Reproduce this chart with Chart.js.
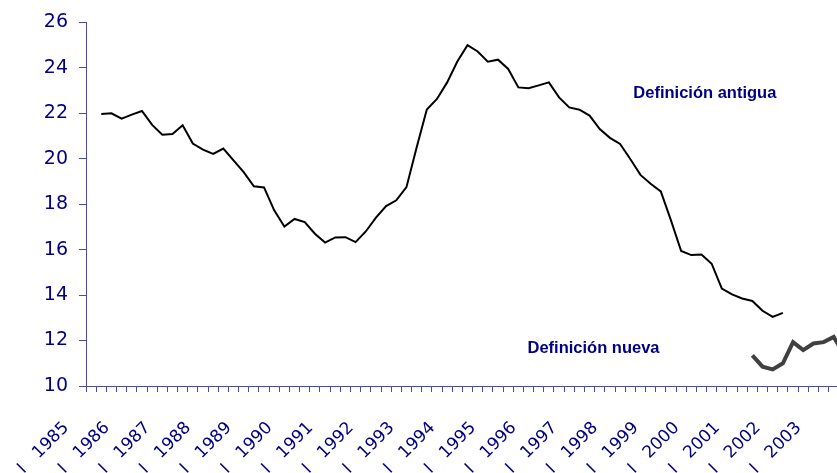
<!DOCTYPE html>
<html>
<head>
<meta charset="utf-8">
<script src="https://cdn.jsdelivr.net/npm/chart.js@4.4.1/dist/chart.umd.min.js"></script>
<style>
  html, body { margin: 0; padding: 0; background: #fff; overflow: hidden; }
  #wrap { width: 837px; height: 473px; overflow: hidden; }
</style>
</head>
<body>
<div id="wrap"><canvas id="chart" width="849" height="473"></canvas></div>
<script>
// quarters shown on the axis: one blank slot before 1985, then 1985-I .. 2003-II
var quarterNames = ['I', 'II', 'III', 'IV'];
var firstYear = 1985;
var lastYear = 2003;
var lastQuarter = 2;

var categories = ['IV   1984'];
for (var y = firstYear; y <= lastYear; y++) {
  for (var q = 0; q < 4; q++) {
    if (y === lastYear && q >= lastQuarter) break;
    categories.push(quarterNames[q] + '   ' + y);
  }
}

// old definition, 1985-I .. 2001-IV
var oldDefinition = [
  21.97, 22.00, 21.76, 21.94, 22.10, 21.49, 21.06, 21.09,
  21.47, 20.67, 20.40, 20.21, 20.45, 19.93, 19.41, 18.79,
  18.74, 17.73, 17.02, 17.35, 17.21, 16.70, 16.31, 16.54,
  16.55, 16.33, 16.80, 17.41, 17.92, 18.17, 18.75, 20.50,
  22.17, 22.63, 23.36, 24.28, 25.00, 24.72, 24.27, 24.36,
  23.95, 23.14, 23.10, 23.23, 23.36, 22.70, 22.26, 22.16,
  21.90, 21.31, 20.92, 20.65, 19.99, 19.29, 18.90, 18.56,
  17.29, 15.94, 15.76, 15.79, 15.38, 14.29, 14.03, 13.85,
  13.74, 13.31, 13.04, 13.22
];

// new definition, 2001-I .. 2003-II
var newDefinition = [11.35, 10.85, 10.73, 11.00, 11.93, 11.58, 11.87, 11.93, 12.16, 11.40];
var newStart = 65;

var yTicks = [10, 12, 14, 16, 18, 20, 22, 24, 26];

// text labels inside the plot: [text, category index, value]
var noteTexts = ['Definición antigua', 'Definición nueva'];
var noteIndex = [53.3, 42.9];
var noteValue = [22.86, 11.67];

function padSeries(values, start) {
  var out = [];
  for (var i = 0; i < categories.length; i++) {
    var k = i - start;
    out.push(k >= 0 && k < values.length ? values[k] : null);
  }
  return out;
}

var navy = '#000080';
var axisColor = '#4a4aa8';

var notesPlugin = {
  id: 'notes',
  afterDatasetsDraw: function (chart) {
    var ctx = chart.ctx;
    var xs = chart.scales.x, ys = chart.scales.y;
    ctx.save();
    ctx.fillStyle = navy;
    ctx.font = 'bold 16.5px "Liberation Sans", Arial, sans-serif';
    ctx.textAlign = 'left';
    ctx.textBaseline = 'middle';
    for (var i = 0; i < noteTexts.length; i++) {
      ctx.fillText(noteTexts[i], xs.getPixelForValue(noteIndex[i]), ys.getPixelForValue(noteValue[i]));
    }
    ctx.restore();
  }
};

var ctx = document.getElementById('chart').getContext('2d');
var myChart = new Chart(ctx, {
  type: 'line',
  data: {
    labels: categories,
    datasets: [{
      label: 'Definición antigua',
      data: padSeries(oldDefinition, 1),
      borderColor: '#000000',
      borderWidth: 2,
      pointRadius: 0,
      tension: 0,
      spanGaps: false
    }, {
      label: 'Definición nueva',
      data: padSeries(newDefinition, newStart),
      borderColor: '#404040',
      borderWidth: 4,
      pointRadius: 0,
      tension: 0,
      spanGaps: false
    }]
  },
  options: {
    responsive: false,
    animation: false,
    layout: { padding: { top: 10, left: 0, right: 0, bottom: 0 } },
    plugins: { legend: { display: false }, tooltip: { enabled: false } },
    scales: {
      x: {
        offset: true,
        grid: { offset: true, drawOnChartArea: false, drawTicks: true, tickLength: 6, color: axisColor },
        border: { color: axisColor, width: 1 },
        ticks: {
          autoSkip: false,
          minRotation: 45,
          maxRotation: 45,
          labelOffset: -35,
          padding: 26,
          color: navy,
          font: { family: '"DejaVu Sans", Verdana, sans-serif', size: 17 },
          callback: function (val, idx) {
            var lab = categories[idx];
            return lab.split(' ')[0] === 'I' ? lab : '';
          }
        },
        afterFit: function (s) {
          s.height = 87;
          // the labels sit far below the axis; don't let that padding squeeze the plot
          s.paddingLeft = 0;
          s.paddingRight = 0;
        }
      },
      y: {
        min: yTicks[0],
        max: yTicks[yTicks.length - 1],
        afterBuildTicks: function (s) { s.ticks = yTicks.map(function (v) { return { value: v }; }); },
        grid: { drawOnChartArea: false, drawTicks: true, tickLength: 7, color: axisColor },
        border: { color: axisColor, width: 1 },
        ticks: {
          padding: 11,
          color: navy,
          font: { family: '"DejaVu Sans", Verdana, sans-serif', size: 19 }
        },
        afterFit: function (s) { s.width = 86; }
      }
    }
  },
  plugins: [notesPlugin]
});
</script>
</body>
</html>
